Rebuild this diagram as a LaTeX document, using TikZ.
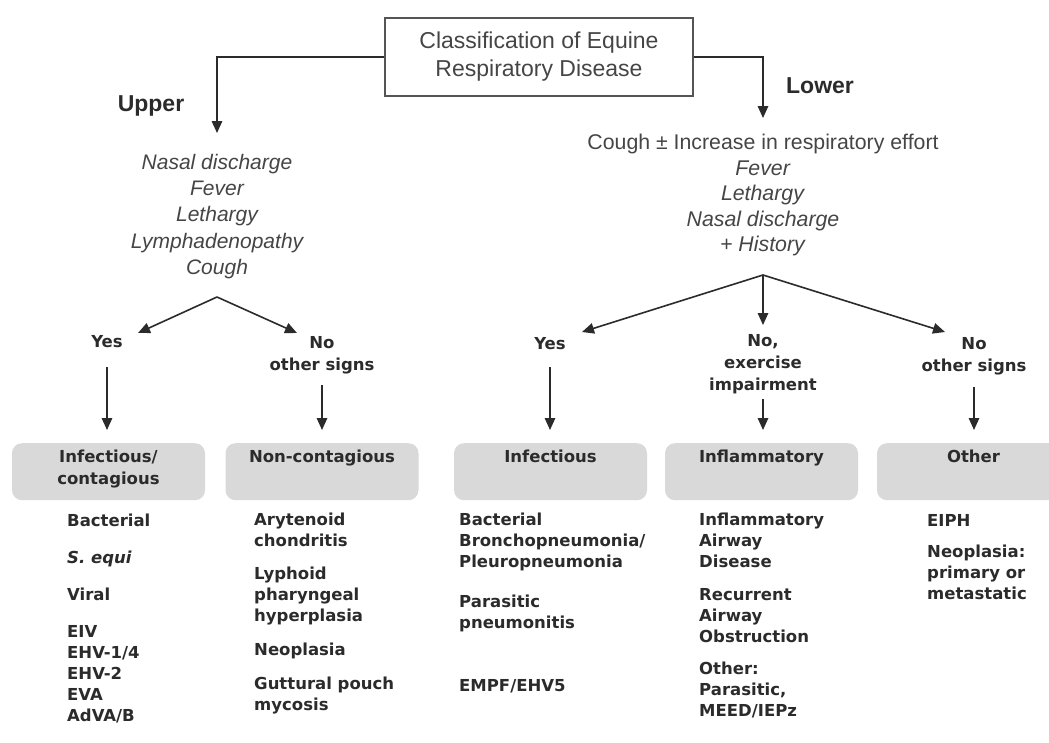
\documentclass[tikz,border=0pt]{standalone}
\usepackage{fontspec}
\setmainfont{Liberation Sans}
\newfontfamily\wide{DejaVu Sans}
\usepackage{xcolor}
\usepackage{tikz}
\usetikzlibrary{
  arrows.meta,
  positioning,
  calc
}

\definecolor{ink}{HTML}{2B2B2B}
\definecolor{softink}{HTML}{454545}
\definecolor{boxgray}{HTML}{D9D9D9}

\tikzset{
  arr/.style={draw=ink, line width=1.6pt, -{Triangle[length=12pt,width=10.5pt]}},
  down/.style={arr, shorten >=13pt},
  symptom/.style={align=center, text=softink, font=\fontsize{21}{26}\selectfont\itshape},
  branch/.style={align=center, text=ink, inner sep=2pt, font=\wide\bfseries\fontsize{16.5}{22}\selectfont},
  side/.style={text=ink, anchor=base, font=\bfseries\fontsize{23}{27}\selectfont},
  catbox/.style={fill=boxgray, rounded corners=10pt, anchor=north, align=center,
    text=ink, inner sep=0pt, minimum width=193pt, text width=185pt,
    text height=19pt, text depth=38pt, font=\wide\bfseries\fontsize{16.5}{22}\selectfont},
  causes/.style={anchor=north west, align=left, text=ink, inner sep=0pt,
    font=\wide\bfseries\fontsize{16.5}{21}\selectfont}
}

\begin{document}
\begin{tikzpicture}[x=1pt, y=-1pt]

\useasboundingbox (0,0) rectangle (1049,742);
\clip (0,0) rectangle (1049,742);

% Title
\node[draw=ink!80, line width=2.2pt, minimum width=308pt, minimum height=78pt,
  align=center, text=softink, font=\fontsize{23}{28}\selectfont] (title) at (539,57)
  {Classification of Equine\\Respiratory Disease};

% Upper / lower split
\node[side] (upper) at (151,111) {Upper};
\node[side] (lower) at (820,93) {Lower};
\coordinate (upin) at (217,133);
\coordinate (lowin) at (763,118);
\draw[arr] (title.west) -| (upin);
\draw[arr] (title.east) -| (lowin);

% Signs
\node[symptom, font=\fontsize{21}{26.25}\selectfont\itshape] (upsym) at (217,216.5)
  {Nasal discharge\\Fever\\Lethargy\\Lymphadenopathy\\Cough};
\node[symptom, font=\fontsize{21.3}{25.5}\selectfont] (losym) at (763,195)
  {Cough ± Increase in respiratory effort\\\textit{Fever}\\\textit{Lethargy}\\
   \textit{Nasal discharge}\\\textit{+ History}};

% Upper branches
\coordinate (ufork) at (217,297);
\coordinate (uyesin) at (138,333);
\coordinate (unoin) at (297,333);
\draw[arr] (ufork) -- (uyesin);
\draw[arr] (ufork) -- (unoin);
\node[branch, anchor=base] (uyes) at (107,347) {Yes};
\node[branch] (uno) at (322,355) {No\\other signs};

% Lower branches
\coordinate (lfork) at (763,275);
\coordinate (lyesin) at (582,332);
\coordinate (lexin) at (763,325);
\coordinate (lnoin) at (945,332);
\draw[arr] (lfork) -- (lyesin);
\draw[arr] (lfork) -- (lexin);
\draw[arr] (lfork) -- (lnoin);
\node[branch, anchor=base] (lyes) at (550,349) {Yes};
\node[branch] (lex) at (763,364) {No,\\exercise\\impairment};
\node[branch] (lno) at (974,356) {No\\other signs};

% Categories
\node[catbox] (infc) at (108.5,443) {Infectious/\\contagious};
\node[catbox] (noncon) at (322,443) {Non-contagious};
\node[catbox] (infl) at (550.5,443) {Infectious};
\node[catbox] (inflam) at (761.5,443) {Inflammatory};
\node[catbox] (other) at (973.5,443) {Other};

\draw[down, shorten <=18pt] (uyes.south) -- (uyes.south |- infc.north);
\draw[down, shorten <=9pt] (uno.south) -- (uno.south |- noncon.north);
\draw[down, shorten <=16pt] (lyes.south) -- (lyes.south |- infl.north);
\draw[down, shorten <=3pt] (lex.south) -- (lex.south |- inflam.north);
\draw[down, shorten <=10pt] (lno.south) -- (lno.south |- other.north);

% Causes
\node[causes] (c1) at (67,514)
  {Bacterial\\[16pt]\textit{S. equi}\\[16pt]Viral\\[16pt]EIV\\EHV-1/4\\EHV-2\\EVA\\AdVA/B};
\node[causes] (c2) at (254,513)
  {Arytenoid\\chondritis\\[12pt]Lyphoid\\pharyngeal\\hyperplasia\\[13pt]Neoplasia\\[13pt]Guttural pouch\\mycosis};
\node[causes] (c3) at (459,513)
  {Bacterial\\Bronchopneumonia/\\Pleuropneumonia\\[19pt]Parasitic\\pneumonitis\\[42pt]EMPF/EHV5};
\node[causes] (c4) at (699,513)
  {Inflammatory\\Airway\\Disease\\[12pt]Recurrent\\Airway\\Obstruction\\[11pt]Other:\\Parasitic,\\MEED/IEPz};
\node[causes] (c5) at (927,514)
  {EIPH\\[10pt]Neoplasia:\\primary or\\metastatic};

\end{tikzpicture}
\end{document}
